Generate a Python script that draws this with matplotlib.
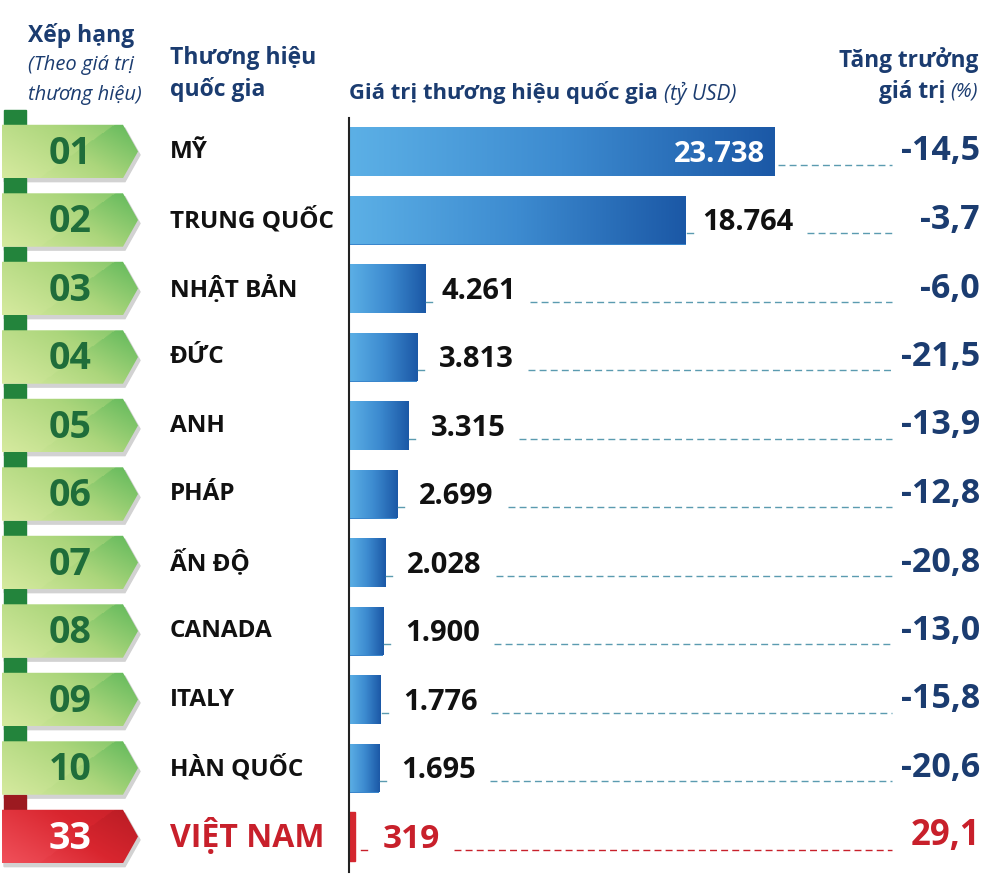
import numpy as np
import matplotlib.pyplot as plt
from matplotlib.patches import Polygon, Rectangle
from matplotlib.colors import LinearSegmentedColormap
from matplotlib.transforms import blended_transform_factory

plt.rcParams['font.family'] = ['Open Sans', 'DejaVu Sans']

# data
ranks = ["01", "02", "03", "04", "05", "06", "07", "08", "09", "10", "33"]
countries = ["MỸ", "TRUNG QUỐC", "NHẬT BẢN", "ĐỨC", "ANH", "PHÁP", "ẤN ĐỘ",
             "CANADA", "ITALY", "HÀN QUỐC", "VIỆT NAM"]
values = [23738, 18764, 4261, 3813, 3315, 2699, 2028, 1900, 1776, 1695, 319]
growth = [-14.5, -3.7, -6.0, -21.5, -13.9, -12.8, -20.8, -13.0, -15.8, -20.6, 29.1]

navy = "#1b3c70"
dark_green = "#1f6d3a"
red = "#c8202b"
dash_blue = "#5b9bb0"

W, H = 1000, 889
fig = plt.figure(figsize=(10, 8.89), dpi=100)
ax = fig.add_axes([0, 0, 1, 1])
ax.axis('off')

# pixel layout -> data scale
x0_px = 349
upp = 23738 / 426.0          # value units per pixel
row0_px, row_px = 151.5, 68.5
n = len(values)
xlim = (-x0_px * upp, (W - x0_px) * upp)
ylim = ((H - row0_px) / row_px, -row0_px / row_px)

trans = blended_transform_factory(ax.transAxes, ax.transData)
ys = np.arange(n)

# bars
bar_h = 49 / row_px
bars = ax.barh(ys, values, height=bar_h, color="#3a86cc", zorder=2)
blue_cmap = LinearSegmentedColormap.from_list("blu", ["#5cb0e6", "#3d8bd0", "#1b58a6"])
grad = np.linspace(0, 1, 256).reshape(1, -1)
for i, (b, v) in enumerate(zip(bars, values)):
    if countries[i] == "VIỆT NAM":
        b.set_color("#d4272f")
        continue
    im = ax.imshow(grad, cmap=blue_cmap, extent=(0, v, i + bar_h / 2, i - bar_h / 2),
                   aspect='auto', zorder=3)
    im.set_clip_path(b)

# vertical axis line
ax.axvline(0, ymin=1 - 872 / H, ymax=1 - 118 / H, color="#222222", lw=1.5, zorder=4)

# ribbons with rank numbers
gx, gy = np.meshgrid(np.linspace(0, 1, 120), np.linspace(0, 1, 60))
green_cmap = LinearSegmentedColormap.from_list("grn", ["#d6ea9f", "#acd67c", "#5fb85a"])
red_cmap = LinearSegmentedColormap.from_list("rd", ["#f0505a", "#d9262f", "#b81c24"])
rib = 0.6 * gx + 0.4 * (1 - gy)
# lighter diagonal band like the folded ribbon in the original
rib = np.where(gx * 0.9 + gy * 0.5 < 0.75, rib * 0.8, rib)
for i in range(n):
    is_vn = countries[i] == "VIỆT NAM"
    cm = red_cmap if is_vn else green_cmap
    tab_c = "#9c1a20" if is_vn else "#23843c"
    top, bot = i - 0.39, i + 0.39
    # folded tab
    ax.add_patch(Rectangle((0.004, i - 0.61), 0.022, 0.3, transform=trans,
                           color=tab_c, zorder=1))
    # shadow
    shadow = Polygon([(0.004, top + 0.05), (0.125, top + 0.05), (0.140, i + 0.05),
                      (0.125, bot + 0.05), (0.004, bot + 0.05)], closed=True,
                     transform=trans, color="#d2d2d2", zorder=1)
    ax.add_patch(shadow)
    poly = Polygon([(0.002, top), (0.123, top), (0.138, i), (0.123, bot), (0.002, bot)],
                   closed=True, transform=trans, facecolor="none", edgecolor="none", zorder=2)
    ax.add_patch(poly)
    im = ax.imshow(rib, cmap=cm, extent=(0.002, 0.138, bot, top), aspect='auto',
                   transform=trans, zorder=2)
    im.set_clip_path(poly)
    ax.text(0.07, i + 0.03, ranks[i], transform=trans, ha='center', va='center',
            fontsize=27, fontweight='bold', color="white" if is_vn else dark_green, zorder=5)
    ax.text(0.170, i, countries[i], transform=trans, ha='left', va='center',
            fontsize=23 if is_vn else 17.5, fontweight='bold',
            color=red if is_vn else "#111111", zorder=5)

ax.set_xlim(*xlim)
ax.set_ylim(*ylim)

# value labels, growth labels and dashed leaders
val_texts = []
for i, v in enumerate(values):
    is_vn = countries[i] == "VIỆT NAM"
    label = f"{v:,}".replace(",", ".")
    if i == 0:
        t = ax.text(v - 10 * upp, i + 0.04, label, ha='right', va='center', fontsize=21,
                    fontweight='bold', color="white", zorder=5)
    else:
        off = 28 if is_vn else (16 if i < 3 else 22)
        t = ax.text(v + off * upp, i + 0.04, label, ha='left', va='center',
                    fontsize=24 if is_vn else 21, fontweight='bold',
                    color=red if is_vn else "#111111", zorder=5)
    val_texts.append(t)
    g = f"{growth[i]:.1f}".replace(".", ",")
    ax.text(0.980, i, g, transform=trans, ha='right', va='center',
            fontsize=25 if is_vn else 24.5, fontweight='bold',
            color=red if is_vn else navy, zorder=5)

fig.canvas.draw()
rend = fig.canvas.get_renderer()
for i, v in enumerate(values):
    is_vn = countries[i] == "VIỆT NAM"
    c = red if is_vn else dash_blue
    yd = i + 0.19
    bar_end_px = x0_px + v / upp
    if i == 0:
        start_px = bar_end_px + 3
    else:
        # short tick right at the bar end
        tick_start = bar_end_px + (6 if is_vn else 1)
        ax.plot([tick_start / W, (tick_start + 6) / W], [yd, yd], transform=trans,
                color=c, lw=1, zorder=4)
        start_px = val_texts[i].get_window_extent(rend).x1 + 14
    ax.plot([start_px / W, 0.892], [yd, yd], transform=trans, color=c, lw=1,
            ls=(0, (5, 3)), zorder=4)

# headers
def fy(y):
    return 1 - y / H

fig.text(0.028, fy(35), "Xếp hạng", fontsize=16.5, fontweight='bold', color=navy, va='center')
fig.text(0.028, fy(65), "(Theo giá trị", fontsize=14.5, style='italic', color=navy, va='center')
fig.text(0.028, fy(95), "thương hiệu)", fontsize=14.5, style='italic', color=navy, va='center')
fig.text(0.170, fy(58), "Thương hiệu", fontsize=16.5, fontweight='bold', color=navy, va='center')
fig.text(0.170, fy(90), "quốc gia", fontsize=16.5, fontweight='bold', color=navy, va='center')
ht = fig.text(0.349, fy(93), "Giá trị thương hiệu quốc gia", fontsize=15.8, fontweight='bold',
              color=navy, va='center')
fig.canvas.draw()
hx = ht.get_window_extent(rend).x1
fig.text((hx + 6) / W, fy(93), "(tỷ USD)", fontsize=15, style='italic', color=navy, va='center')
fig.text(0.978, fy(60), "Tăng trưởng", fontsize=16.3, fontweight='bold', color=navy,
         va='center', ha='right')
pt = fig.text(0.978, fy(92), "(%)", fontsize=14.5, style='italic', color=navy, va='center', ha='right')
fig.canvas.draw()
px_ = pt.get_window_extent(rend).x0
fig.text((px_ - 5) / W, fy(92), "giá trị", fontsize=16.3, fontweight='bold', color=navy,
         va='center', ha='right')

fig.savefig("out.png", dpi=100, facecolor="white")
